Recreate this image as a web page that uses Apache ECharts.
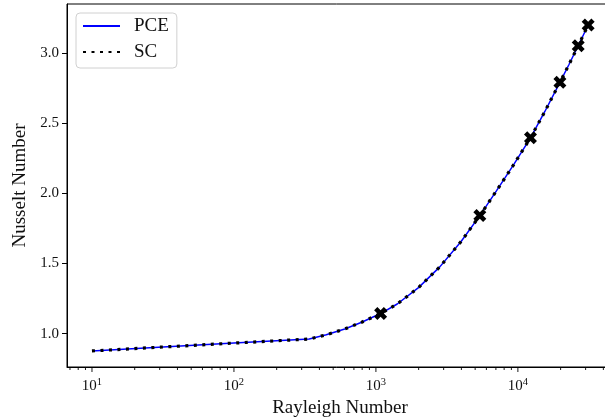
<!DOCTYPE html>
<html>
<head>
<meta charset="utf-8">
<script src="https://cdn.jsdelivr.net/npm/echarts@6/dist/echarts.min.js"></script>
<style>
  html, body { margin: 0; padding: 0; background: #fff; }
  #grid { width: 605px; height: 417px; }
</style>
</head>
<body>
<div id="grid"></div>
<script>
// curve samples
let rayleigh = [10, 100, 339, 447, 603, 794, 1079, 1413, 1995, 2818, 3981, 5395, 7079, 9268, 12270, 15490, 19770, 22910, 26600, 31260];
let nuPCE = [0.876, 0.932, 0.961, 0.991, 1.033, 1.081, 1.143, 1.211, 1.328, 1.476, 1.657, 1.842, 2.020, 2.200, 2.397, 2.585, 2.793, 2.920, 3.054, 3.202];
let nuSC = [0.876, 0.932, 0.961, 0.991, 1.033, 1.081, 1.143, 1.211, 1.328, 1.476, 1.657, 1.842, 2.020, 2.200, 2.397, 2.585, 2.793, 2.920, 3.054, 3.202];

// sample points (X markers)
let sampleRa = [1079, 5395, 12270, 19770, 26600, 31260];
let sampleNu = [1.143, 1.842, 2.397, 2.793, 3.054, 3.202];

let yTicks = [1.0, 1.5, 2.0, 2.5, 3.0];
let xMajor = [10, 100, 1000, 10000];
let xMinor = [7, 8, 9, 20, 30, 40, 50, 60, 70, 80, 90, 200, 300, 400, 500, 600, 700, 800, 900,
    2000, 3000, 4000, 5000, 6000, 7000, 8000, 9000, 20000, 30000, 40000];

const font = 'Liberation Serif';
const xMin = 6.67, xMax = 46770;
const yMin = 0.7614, yMax = 3.352;

function pairs(xs, ys) {
    return xs.map(function (x, i) { return [x, ys[i]]; });
}

const xShape = 'path://M0,3 L3,0 L6,3 L9,0 L12,3 L9,6 L12,9 L9,12 L6,9 L3,12 L0,9 L3,6 Z';

option = {
    animation: false,
    grid: {
        left: 67,
        top: 4,
        right: -8,
        bottom: 50,
        outerBoundsMode: 'none',
        containLabel: false,
        show: true,
        borderColor: '#000',
        borderWidth: 1
    },
    legend: {
        orient: 'vertical',
        left: 76,
        top: 13,
        padding: [3, 8, 6, 6],
        itemWidth: 37,
        itemHeight: 14,
        itemGap: 6,
        borderColor: '#d0d0d0',
        borderWidth: 1,
        borderRadius: 4,
        backgroundColor: 'rgba(255,255,255,0.8)',
        itemStyle: { opacity: 0 },
        data: ['PCE', 'SC'],
        textStyle: {
            fontFamily: font,
            fontSize: 19,
            lineHeight: 20,
            color: '#111',
            padding: [0, 0, 0, 9]
        }
    },
    xAxis: {
        type: 'log',
        logBase: 10,
        min: xMin,
        max: xMax,
        name: 'Rayleigh Number',
        nameLocation: 'middle',
        nameGap: 28,
        nameTextStyle: { fontFamily: font, fontSize: 19, color: '#111' },
        axisLine: { lineStyle: { color: '#000', width: 1 } },
        axisTick: { show: false },
        splitLine: { show: false },
        axisLabel: {
            showMinLabel: false,
            showMaxLabel: false,
            margin: 10,
            fontFamily: font,
            fontSize: 15,
            color: '#111',
            formatter: function (v) {
                return '10{s|' + Math.round(Math.log10(v)) + '}';
            },
            rich: {
                s: { fontFamily: font, fontSize: 10.5, color: '#111', padding: [0, 0, 8, 0] }
            }
        }
    },
    yAxis: {
        type: 'value',
        min: yMin,
        max: yMax,
        name: 'Nusselt Number',
        nameLocation: 'middle',
        nameGap: 37,
        nameTextStyle: { fontFamily: font, fontSize: 19, color: '#111' },
        axisLine: { show: true, lineStyle: { color: '#000', width: 1 } },
        axisTick: { show: true, length: 5, customValues: yTicks, lineStyle: { color: '#000' } },
        splitLine: { show: false },
        axisLabel: {
            customValues: yTicks,
            margin: 8,
            fontFamily: font,
            fontSize: 15,
            color: '#111',
            formatter: function (v) { return v.toFixed(1); }
        }
    },
    series: [{
        name: 'PCE',
        type: 'line',
        symbol: 'none',
        data: pairs(rayleigh, nuPCE),
        lineStyle: { color: '#0000ff', width: 1.5 },
        itemStyle: { color: '#0000ff' },
        z: 2
    }, {
        name: 'SC',
        type: 'line',
        symbol: 'none',
        data: pairs(rayleigh, nuSC),
        lineStyle: { color: '#000', width: 3.2, type: [3, 5.5], cap: 'butt' },
        itemStyle: { color: '#000' },
        z: 3
    }, {
        name: 'samples',
        type: 'scatter',
        symbol: xShape,
        symbolSize: 13,
        data: pairs(sampleRa, sampleNu),
        itemStyle: { color: '#000', opacity: 1 },
        z: 4
    }]
};

let myChart = echarts.init(document.getElementById('grid'));
myChart.setOption(option);

// x ticks drawn at positions from the log axis
let tickEls = [];
function addTicks(vals, len) {
    vals.forEach(function (v) {
        let p = myChart.convertToPixel({ gridIndex: 0 }, [v, yMin]);
        tickEls.push({
            type: 'line',
            shape: { x1: p[0], y1: p[1], x2: p[0], y2: p[1] + len },
            style: { stroke: '#000', lineWidth: 0.9 },
            silent: true
        });
    });
}
addTicks(xMajor, 5);
addTicks(xMinor, 3);
myChart.setOption({ graphic: tickEls });
</script>
</body>
</html>
